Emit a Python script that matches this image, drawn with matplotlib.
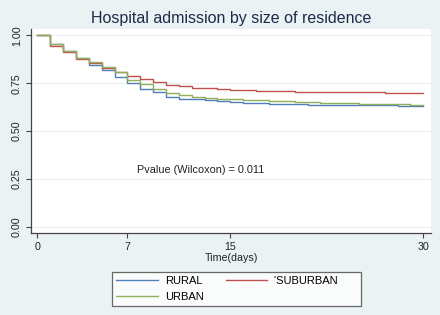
import matplotlib
matplotlib.use("Agg")
import matplotlib.pyplot as plt
from matplotlib.lines import Line2D

plt.rcParams['font.family'] = ['Liberation Sans', 'DejaVu Sans']

days = list(range(0, 31))
rural = [1.0, 0.955, 0.917, 0.88, 0.845, 0.82, 0.785, 0.75, 0.722, 0.706, 0.678,
         0.669, 0.666, 0.66, 0.655, 0.652, 0.648, 0.645, 0.643, 0.641, 0.639,
         0.638, 0.637, 0.637, 0.636, 0.636, 0.635, 0.634, 0.633, 0.633, 0.632]
suburban = [1.0, 0.945, 0.912, 0.878, 0.855, 0.832, 0.81, 0.79, 0.771, 0.754, 0.739,
            0.733, 0.727, 0.724, 0.72, 0.717, 0.714, 0.712, 0.71, 0.708, 0.706,
            0.705, 0.704, 0.703, 0.703, 0.702, 0.702, 0.701, 0.701, 0.700, 0.700]
urban = [1.0, 0.955, 0.917, 0.882, 0.86, 0.835, 0.81, 0.767, 0.745, 0.722, 0.701,
         0.687, 0.68, 0.675, 0.67, 0.667, 0.663, 0.66, 0.657, 0.655, 0.652,
         0.65, 0.648, 0.646, 0.644, 0.642, 0.641, 0.640, 0.639, 0.638, 0.638]

series_names = ["RURAL", "'SUBURBAN", "URBAN"]
colors = ["#4F7FBA", "#C0504D", "#8FAF5A"]
xticks = [0, 7, 15, 30]
yticks = [0.0, 0.25, 0.5, 0.75, 1.0]
ytick_labels = ["0.00", "0.25", "0.50", "0.75", "1.00"]

bg = "#EAF2F3"
fig = plt.figure(figsize=(4.4, 3.15), dpi=100, facecolor=bg)
ax = fig.add_axes([31/440, 1-233/315, 400/440, 204/315])
ax.set_facecolor("white")

for y in yticks:
    ax.axhline(y, color="#EAF1F2", lw=0.9, zorder=0)

data = [rural, suburban, urban]
lines = []
for vals, c in zip(data, colors):
    l, = ax.plot(days, vals, drawstyle="steps-post", color=c, lw=1.0, zorder=3)
    lines.append(l)

ax.set_xlim(-0.5, 30.6)
ax.set_ylim(-0.034, 1.034)
ax.set_xticks(xticks)
ax.set_xticklabels([str(t) for t in xticks])
ax.set_yticks(yticks)
ax.set_yticklabels(ytick_labels, rotation=90, va="center")
ax.tick_params(axis="both", labelsize=7.7, length=3.5, width=0.8, color="#444444",
               labelcolor="#222222", pad=3)
for s in ["top", "right"]:
    ax.spines[s].set_visible(False)
for s in ["left", "bottom"]:
    ax.spines[s].set_color("#444444")
    ax.spines[s].set_linewidth(0.9)

ax.set_xlabel("Time(days)", fontsize=7.7, color="#222222", labelpad=0.5)
fig.text(231/440, 1-18/315, "Hospital admission by size of residence",
         ha="center", va="center", fontsize=11.5, color="#1C2B4A")

ax.text(7.75, 0.297, "Pvalue (Wilcoxon) = 0.011", fontsize=7.8, color="#222222",
        ha="left", va="center")

handles = [Line2D([], [], color=colors[0], lw=1.0),
           Line2D([], [], color=colors[2], lw=1.0),
           Line2D([], [], color=colors[1], lw=1.0)]
labels = [series_names[0], series_names[2], series_names[1] + "      "]
leg = fig.legend(handles, labels, ncol=2, loc="center left",
                 bbox_to_anchor=(112/440, 1-289/315), fontsize=8,
                 frameon=True, fancybox=False, edgecolor="#444444",
                 handlelength=3.7, handletextpad=0.65, columnspacing=2.0,
                 labelspacing=0.5, borderpad=0.4, borderaxespad=0)
leg.get_frame().set_linewidth(0.9)
leg.get_frame().set_facecolor("white")

fig.savefig("out.png", dpi=100, facecolor=bg)
